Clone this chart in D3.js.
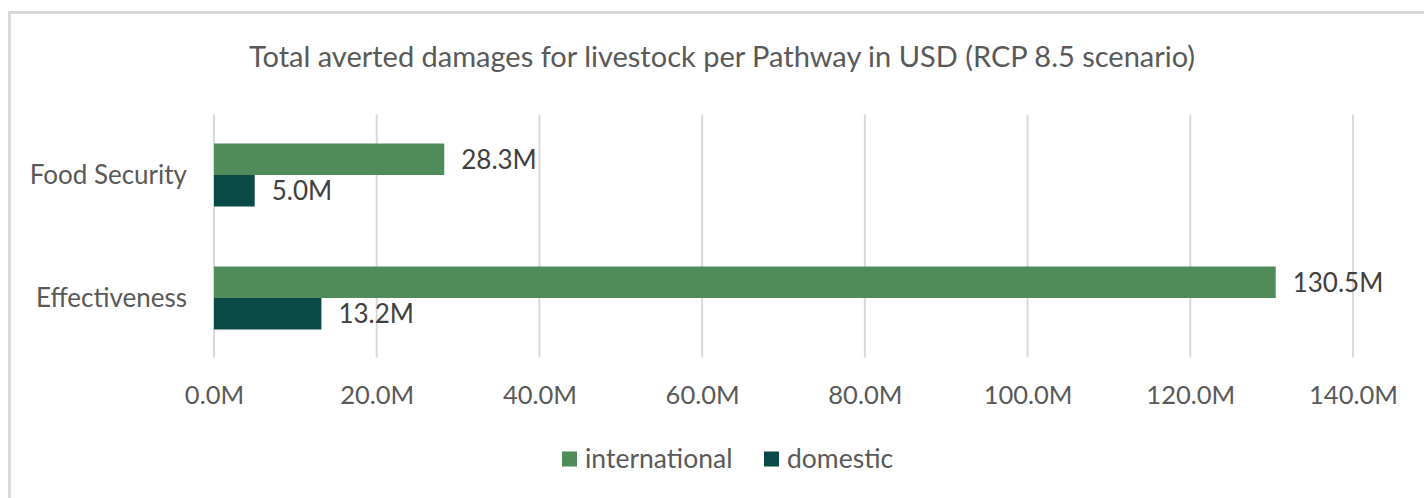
<!DOCTYPE html>
<html>
<head>
<meta charset="utf-8">
<script src="https://cdn.jsdelivr.net/npm/d3@7"></script>
<style>
  html, body { margin: 0; padding: 0; background: #fff; }
  svg { display: block; font-family: Lato, "Open Sans", sans-serif; }
</style>
</head>
<body>
<svg id="chart" width="1424" height="498"></svg>
<script>
const categories = ["Food Security", "Effectiveness"];
const seriesNames = ["international", "domestic"];
const international = [28.3, 130.5];
const domestic = [5.0, 13.2];
const xTicks = [0, 20, 40, 60, 80, 100, 120, 140];
const title = "Total averted damages for livestock per Pathway in USD (RCP 8.5 scenario)";
const colors = ["#4f8c5a", "#094a47"];

const series = [international, domestic];
const svg = d3.select("#chart");

// outer frame
svg.append("rect")
  .attr("x", 9.5).attr("y", 12.5)
  .attr("width", 1430).attr("height", 500)
  .attr("fill", "#fff").attr("stroke", "#d9d9d9").attr("stroke-width", 3);

const plotTop = 113.5, plotBottom = 359.5;
const x = d3.scaleLinear().domain([0, 140]).range([214, 1353]);
const y0 = d3.scaleBand().domain(categories).range([plotTop, plotBottom])
  .paddingInner(0.488).paddingOuter(0.244);
const y1 = d3.scaleBand().domain(seriesNames).range([0, y0.bandwidth()]);

// title
svg.append("text")
  .attr("x", 722).attr("y", 67)
  .attr("text-anchor", "middle")
  .attr("fill", "#595959")
  .attr("font-size", 29)
  .text(title);

// gridlines
svg.append("g").selectAll("line").data(xTicks).join("line")
  .attr("x1", d => x(d)).attr("x2", d => x(d))
  .attr("y1", plotTop + 1).attr("y2", plotBottom - 2)
  .attr("stroke", "#d9d9d9").attr("stroke-width", 2);

// x axis labels via d3 axis
const xAxis = d3.axisBottom(x).tickValues(xTicks)
  .tickFormat(d => d3.format(".1f")(d) + "M").tickSize(0).tickPadding(0);
const gx = svg.append("g").attr("transform", `translate(0,${plotBottom + 28})`).call(xAxis);
gx.select(".domain").remove();
gx.selectAll("text").attr("font-size", 25.5).attr("fill", "#595959")
  .attr("font-family", "Lato, 'Open Sans', sans-serif").attr("dy", "0.35em").attr("y", 8);

// y axis labels
const yAxis = d3.axisLeft(y0).tickSize(0).tickPadding(27);
const gy = svg.append("g").attr("transform", `translate(214,0)`).call(yAxis);
gy.select(".domain").remove();
gy.selectAll("text").attr("font-size", 26).attr("fill", "#595959")
  .attr("font-family", "Lato, 'Open Sans', sans-serif").attr("dy", "0.35em");

// bars
const groups = svg.append("g").selectAll("g").data(categories).join("g")
  .attr("transform", d => `translate(0,${y0(d)})`);

groups.each(function(cat, ci) {
  const g = d3.select(this);
  seriesNames.forEach((s, si) => {
    const v = series[si][ci];
    g.append("rect")
      .attr("x", x(0)).attr("y", y1(s))
      .attr("width", x(v) - x(0)).attr("height", y1.bandwidth())
      .attr("fill", colors[si]);
    g.append("text")
      .attr("x", x(v) + 17).attr("y", y1(s) + y1.bandwidth() / 2)
      .attr("dy", "0.36em")
      .attr("font-size", 26).attr("fill", "#404040")
      .text(d3.format(".1f")(v) + "M");
  });
});

// legend
const legend = svg.append("g").attr("transform", "translate(0,459)");
const legendItems = [{x: 562}, {x: 764}];
seriesNames.forEach((s, i) => {
  legend.append("rect")
    .attr("x", legendItems[i].x).attr("y", -7.5)
    .attr("width", 15).attr("height", 15)
    .attr("fill", colors[i]);
  legend.append("text")
    .attr("x", legendItems[i].x + 23).attr("y", 0).attr("dy", "0.35em")
    .attr("font-size", 26.5).attr("fill", "#595959")
    .text(s);
});
</script>
</body>
</html>
